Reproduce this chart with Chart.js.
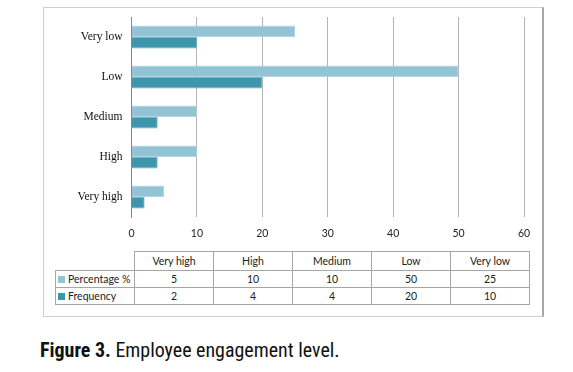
<!DOCTYPE html>
<html>
<head>
<meta charset="utf-8">
<script src="https://cdn.jsdelivr.net/npm/chart.js@4"></script>
<style>
  html, body { margin: 0; padding: 0; background: #fff; }
  #wrap { position: relative; width: 573px; height: 372px; overflow: hidden; background: #fff; }
  #frame {
    position: absolute; left: 43px; top: 7px; width: 498px; height: 308px;
    border: 1px solid #cfcfcf; border-right: 2px solid #a9a9a9; box-sizing: content-box;
  }
  #chartBox { position: absolute; left: 0; top: 0; width: 573px; height: 250px; }
  #dataTable {
    position: absolute; left: 55px; top: 251px; border-collapse: collapse;
    font-family: Lato, "Open Sans", sans-serif; font-size: 10.5px; color: #222;
  }
  #dataTable td { border: 1px solid #a6a6a6; text-align: center; padding: 0; height: 16px; width: 78px; }
  #dataTable tr.head td { height: 18px; }
  #dataTable td.leg { width: 76px; text-align: left; padding-left: 2px; white-space: nowrap; }
  #dataTable td.blank { border: none; }
  .key { display: inline-block; width: 7px; height: 7px; margin-right: 3px; vertical-align: 0px; }
  #caption {
    position: absolute; left: 40px; top: 338px; font-family: "Liberation Sans Narrow", "Roboto", sans-serif;
    font-stretch: condensed; font-size: 21px; color: #111; white-space: nowrap;
    transform: scaleX(0.95); transform-origin: left top;
  }
</style>
</head>
<body>
<div id="wrap">
  <div id="frame"></div>
  <div id="chartBox"><canvas id="barChart" width="573" height="250"></canvas></div>
  <table id="dataTable"></table>
  <div id="caption"><b>Figure 3.</b> Employee engagement level.</div>
</div>
<script>
// 資料（依表格順序）
var categories = ['Very high', 'High', 'Medium', 'Low', 'Very low'];
var percentValues = [5, 10, 10, 50, 25];
var frequencyValues = [2, 4, 4, 20, 10];
var xTicks = [0, 10, 20, 30, 40, 50, 60];

var seriesNames = ['Percentage %', 'Frequency'];
var seriesColors = ['#93c4d6', '#3e96ac'];

// === 表格 ===
var table = document.getElementById('dataTable');
var head = '<tr class="head"><td class="blank"></td>';
categories.forEach(function (c) { head += '<td>' + c + '</td>'; });
head += '</tr>';
var rows = [percentValues, frequencyValues].map(function (vals, i) {
  var r = '<tr><td class="leg"><span class="key" style="background:' + seriesColors[i] + '"></span>' + seriesNames[i] + '</td>';
  vals.forEach(function (v) { r += '<td>' + v + '</td>'; });
  return r + '</tr>';
});
table.innerHTML = head + rows.join('');

// === 橫條圖 ===
var ctx = document.getElementById('barChart').getContext('2d');
new Chart(ctx, {
  type: 'bar',
  data: {
    labels: categories,
    datasets: [{
      label: seriesNames[0],
      data: percentValues,
      backgroundColor: seriesColors[0],
      borderColor: '#a9d2e0',
      borderWidth: 0.8,
      categoryPercentage: 0.57,
      barPercentage: 1.0
    }, {
      label: seriesNames[1],
      data: frequencyValues,
      backgroundColor: seriesColors[1],
      borderColor: '#66adc0',
      borderWidth: 0.8,
      categoryPercentage: 0.57,
      barPercentage: 1.0
    }]
  },
  options: {
    indexAxis: 'y',
    responsive: false,
    animation: false,
    layout: { padding: { left: 0, top: 17, right: 49, bottom: 0 } },
    plugins: { legend: { display: false }, tooltip: { enabled: false } },
    scales: {
      x: {
        min: 0,
        max: 60,
        afterBuildTicks: function (scale) {
          scale.ticks = xTicks.map(function (v) { return { value: v }; });
        },
        afterFit: function (scale) { scale.height = 33; },
        grid: { color: '#b4b4b4', drawTicks: false },
        border: { display: false },
        ticks: { padding: 10, color: '#222', font: { family: 'Lato, "Open Sans", sans-serif', size: 10.5 } }
      },
      y: {
        reverse: true,
        afterFit: function (scale) { scale.width = 131.5; },
        grid: { display: false, drawTicks: false },
        border: { display: true, color: '#8a8a8a' },
        ticks: { padding: 9, color: '#111', font: { family: '"Liberation Serif", "Times New Roman", serif', size: 11.5 } }
      }
    }
  }
});
</script>
</body>
</html>
